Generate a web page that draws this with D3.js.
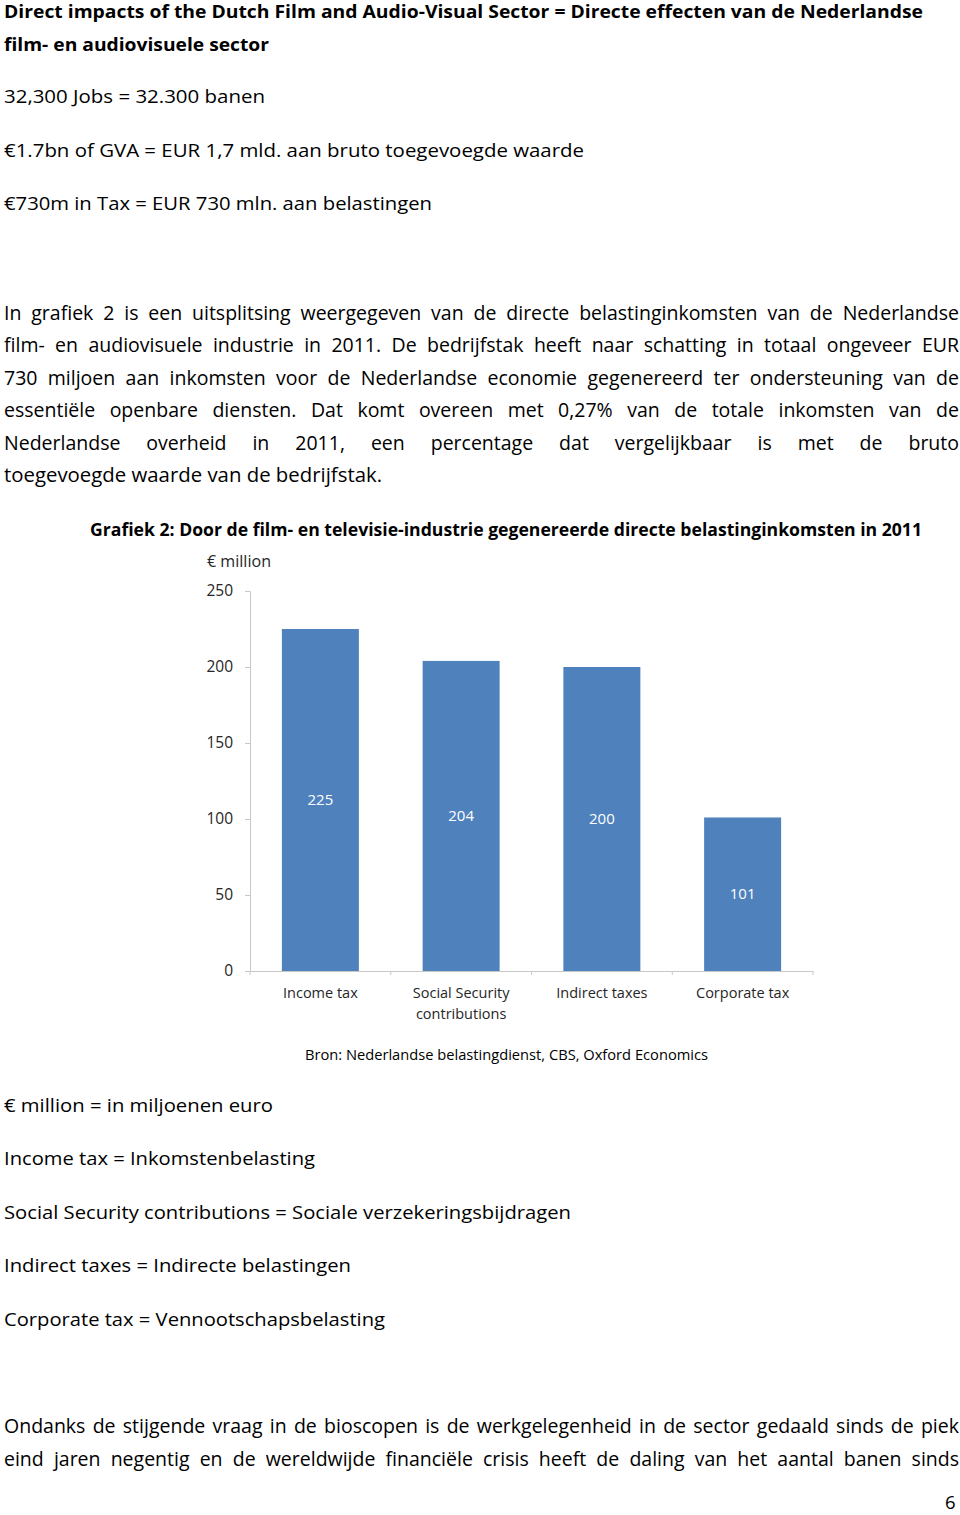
<!DOCTYPE html>
<html>
<head>
<meta charset="utf-8">
<script src="https://cdn.jsdelivr.net/npm/d3@7"></script>
<style>
  body { margin: 0; background: #fff; }
  text { font-family: "Open Sans", "Noto Sans", sans-serif; }
</style>
</head>
<body>
<svg id="page" width="960" height="1515"></svg>
<script>
// --- chart data ---
var categories = ["Income tax", "Social Security contributions", "Indirect taxes", "Corporate tax"];
var values = [225, 204, 200, 101];
var yTicks = [0, 50, 100, 150, 200, 250];
var chartTitle = "Grafiek 2: Door de film- en televisie-industrie gegenereerde directe belastinginkomsten in 2011";
var unitLabel = "€ million";
var sourceNote = "Bron: Nederlandse belastingdienst, CBS, Oxford Economics";

// --- page text ---
var headLines = [
  "Direct impacts of the Dutch Film and Audio-Visual Sector = Directe effecten van de Nederlandse",
  "film- en audiovisuele sector"
];
var introLines = [
  "32,300 Jobs = 32.300 banen",
  "€1.7bn of GVA = EUR 1,7 mld. aan bruto toegevoegde waarde",
  "€730m in Tax = EUR 730 mln. aan belastingen"
];
var paraLines = [
  "In grafiek 2 is een uitsplitsing weergegeven van de directe belastinginkomsten van de Nederlandse",
  "film- en audiovisuele industrie in 2011. De bedrijfstak heeft naar schatting in totaal ongeveer EUR",
  "730 miljoen aan inkomsten voor de Nederlandse economie gegenereerd ter ondersteuning van de",
  "essentiële openbare diensten. Dat komt overeen met 0,27% van de totale inkomsten van de",
  "Nederlandse overheid in 2011, een percentage dat vergelijkbaar is met de bruto",
  "toegevoegde waarde van de bedrijfstak."
];
var glossLines = [
  "€ million = in miljoenen euro",
  "Income tax = Inkomstenbelasting",
  "Social Security contributions = Sociale verzekeringsbijdragen",
  "Indirect taxes = Indirecte belastingen",
  "Corporate tax = Vennootschapsbelasting"
];
var tailLines = [
  "Ondanks de stijgende vraag in de bioscopen is de werkgelegenheid in de sector gedaald sinds de piek",
  "eind jaren negentig en de wereldwijde financiële crisis heeft de daling van het aantal banen sinds"
];
var pageNumber = "6";

// layout (right edges of the lines)
var headEnds = [923, 269];
var introEnds = [265, 584, 432];
var glossEnds = [273, 315, 571, 351, 385];
var paraLast = 382;
var rightEdge = 959;

var svg = d3.select("#page");

// puts one line of text; justify spreads the words, otherwise fit to end
function putLine(str, x, y, size, end, opts) {
  opts = opts || {};
  var t = svg.append("text")
    .attr("x", x).attr("y", y)
    .attr("font-size", size)
    .attr("font-weight", opts.bold ? 700 : 400)
    .attr("fill", opts.fill || "#000");
  if (opts.justify) {
    var words = str.split(" ");
    var spans = words.map(function(w) { return t.append("tspan").text(w); });
    var widths = spans.map(function(s) { return s.node().getComputedTextLength(); });
    var total = d3.sum(widths);
    var gap = (end - x - total) / (words.length - 1);
    if (gap < 4) {
      size = size * (end - x - 4 * (words.length - 1)) / total;
      t.attr("font-size", size);
      widths = spans.map(function(s) { return s.node().getComputedTextLength(); });
      total = d3.sum(widths);
      gap = (end - x - total) / (words.length - 1);
    }
    var cx = x;
    spans.forEach(function(s, i) { s.attr("x", cx); cx += widths[i] + gap; });
  } else {
    t.text(str);
    if (end) t.attr("textLength", end - x).attr("lengthAdjust", "spacingAndGlyphs");
  }
  return t;
}

var bodySize = 18.5;

headLines.forEach(function(s, i) {
  putLine(s, 4, 18 + i * 32.5, 18, headEnds[i], {bold: true});
});
introLines.forEach(function(s, i) {
  putLine(s, 4, 103 + i * 53.5, bodySize, introEnds[i]);
});
paraLines.forEach(function(s, i) {
  var last = i === paraLines.length - 1;
  putLine(s, 4, 319.5 + i * 32.5, 19.5, last ? paraLast : rightEdge, {justify: !last});
});
glossLines.forEach(function(s, i) {
  putLine(s, 4, 1111.5 + i * 53.5, bodySize, glossEnds[i]);
});
tailLines.forEach(function(s, i) {
  putLine(s, 4, 1433 + i * 32.5, 19.5, rightEdge, {justify: true});
});
putLine(pageNumber, 945, 1509, bodySize);

// --- chart ---
putLine(chartTitle, 90, 536, 17.5, 922, {bold: true});
putLine(unitLabel, 207, 567, 15.5, 271, {fill: "#262626"});
putLine(sourceNote, 305, 1060, 14, 708);

var x = d3.scaleBand().domain(categories).range([250, 813])
    .paddingInner(0.453).paddingOuter(0.2265);
var y = d3.scaleLinear().domain([0, 250]).range([971, 591]);

var chart = svg.append("g");

chart.selectAll("rect.bar")
  .data(values)
  .enter().append("rect")
    .attr("class", "bar")
    .attr("x", function(d, i) { return x(categories[i]); })
    .attr("y", function(d) { return y(d); })
    .attr("width", x.bandwidth())
    .attr("height", function(d) { return y(0) - y(d); })
    .attr("fill", "#4f81bd");

chart.selectAll("text.val")
  .data(values)
  .enter().append("text")
    .attr("class", "val")
    .attr("x", function(d, i) { return x(categories[i]) + x.bandwidth() / 2; })
    .attr("y", function(d) { return (y(d) + y(0)) / 2; })
    .attr("dy", "0.35em")
    .attr("text-anchor", "middle")
    .attr("font-size", 15)
    .attr("fill", "#fff")
    .text(function(d) { return d; });

var yAxis = chart.append("g")
  .attr("transform", "translate(250,0)")
  .call(d3.axisLeft(y).tickValues(yTicks).tickSize(5).tickPadding(12));
yAxis.select(".domain").attr("stroke", "#c8c8c8");
yAxis.selectAll(".tick line").attr("stroke", "#c8c8c8");
yAxis.selectAll("text").attr("font-size", 15.5).attr("fill", "#262626")
  .attr("font-family", "'Open Sans', sans-serif");

var xAxis = chart.append("g")
  .attr("transform", "translate(0," + y(0) + ")")
  .call(d3.axisBottom(x).tickSize(0).tickPadding(17));
xAxis.select(".domain").attr("stroke", "#c8c8c8");
xAxis.selectAll("text").attr("font-size", 14.5).attr("fill", "#262626")
  .attr("font-family", "'Open Sans', sans-serif")
  .each(function(d) {
    // wrap long category names onto two lines
    var t = d3.select(this);
    if (this.getComputedTextLength() < x.step() * 0.85) return;
    var words = d.split(" ");
    var l1 = words.slice(0, 2).join(" "), l2 = words.slice(2).join(" ");
    t.text(null);
    t.append("tspan").attr("x", 0).text(l1);
    t.append("tspan").attr("x", 0).attr("dy", "1.4em").text(l2);
  });

// tick marks at the category boundaries
var bounds = categories.map(function(c) { return x(c) - (x.step() - x.bandwidth()) / 2; });
bounds.push(x.range()[1]);
xAxis.selectAll("line.bound")
  .data(bounds)
  .enter().append("line")
    .attr("class", "bound")
    .attr("x1", function(d) { return d; }).attr("x2", function(d) { return d; })
    .attr("y1", 0).attr("y2", 4)
    .attr("stroke", "#c8c8c8");
</script>
</body>
</html>
